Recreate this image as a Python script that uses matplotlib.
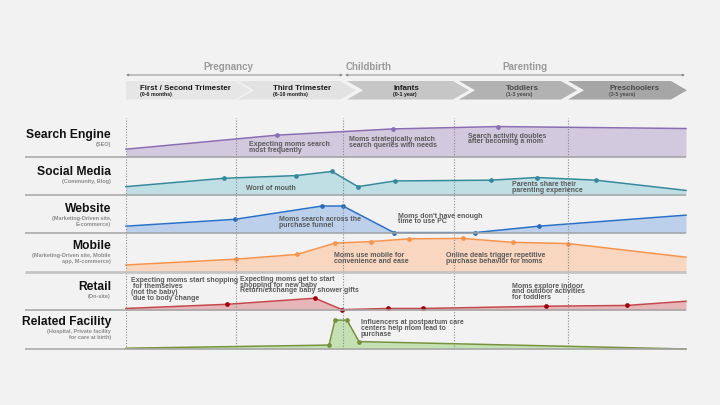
import matplotlib
matplotlib.use('Agg')
import matplotlib.pyplot as plt
from matplotlib.patches import Polygon

plt.rcParams['font.family'] = ['Liberation Sans', 'DejaVu Sans']

# ---------------- data ----------------
phases = ['Pregnancy', 'Childbirth', 'Parenting']
stages = ['First / Second Trimester', 'Third Trimester', 'Infants', 'Toddlers', 'Preschoolers']
stage_spans = ['(0-6 months)', '(6-10 months)', '(0-1 year)', '(1-3 years)', '(3-5 years)']
stage_bounds = [0, 110, 217, 328, 442, 560]          # timeline position of stage boundaries

channels = ['Search Engine', 'Social Media', 'Website', 'Mobile', 'Retail', 'Related Facility']
channel_notes = ['(SEO)', '(Community, Blog)', '(Marketing-Driven site,\nE-commerce)',
                 '(Marketing-Driven site, Mobile\napp, M-commerce)', '(On-site)',
                 '(Hospital, Private facility\nfor care at birth)']

search_x = [0, 151, 267, 372, 560]
search_y = [20, 56, 72, 78, 73]
social_x = [0, 98, 170, 206, 232, 269, 365, 411, 470, 560]
social_y = [22, 44, 51, 62, 22, 37, 39, 46, 39, 12]
website_x = [0, 109, 196, 217, 268, 349, 413, 560]
website_y = [18, 36, 71, 71, 1, 1, 18, 47]
mobile_x = [0, 110, 171, 209, 245, 283, 337, 387, 442, 560]
mobile_y = [18, 33, 45, 74, 78, 85, 86, 76, 73, 38]
retail_x = [0, 101, 189, 216, 262, 297, 420, 501, 560]
retail_y = [4, 15, 31, 1, 4, 4, 10, 12, 23]
facility_x = [0, 203, 209, 221, 233, 560]
facility_y = [2, 10, 74, 74, 19, 0]

notes = [
    (249, 144.3, ["Expecting moms search", "most frequently"]),
    (349, 139.3, ["Moms strategically match", "search queries with needs"]),
    (468, 136.0, ["Search activity doubles", "after becoming a mom"]),
    (246, 188.7, ["Word of mouth"]),
    (512, 184.7, ["Parents share their", "parenting experience"]),
    (279, 219.3, ["Moms search across the", "purchase funnel"]),
    (398, 216.0, ["Moms don't have enough", "time to use PC"]),
    (334, 255.7, ["Moms use mobile for", "convenience and ease"]),
    (446, 255.3, ["Online deals trigger repetitive", "purchase behavior for moms"]),
    (131, 281.0, ["Expecting moms start shopping", " for themselves", "(not the baby)", " due to body change"]),
    (240, 279.3, ["Expecting moms get to start", "shopping for new baby", "Return/exchange baby shower gifts"]),
    (512, 286.0, ["Moms explore indoor", "and outdoor activities", "for toddlers"]),
    (361, 322.7, ["Influencers at postpartum care", "centers help mom lead to", "purchase"]),
]

# ---------------- styling / layout ----------------
W, H = 720, 405
BG = '#f2f2f2'
X0, X1 = 126, 686
lane_edges = [118, 157, 195, 233, 272, 310, 349]
line_cols = ['#8a6db3', '#348a9c', '#2a72c8', '#f7944a', '#c4474b', '#76933c']
fill_cols = ['#d3c9de', '#c0dfe4', '#bcd0eb', '#f8d6bf', '#e6b6b9', '#c5e0b3']
mark_cols = ['#8a6db3', '#348a9c', '#2a6cb8', '#f7944a', '#a00010', '#76933c']
series = [(search_x, search_y), (social_x, social_y), (website_x, website_y),
          (mobile_x, mobile_y), (retail_x, retail_y), (facility_x, facility_y)]

fig = plt.figure(figsize=(W / 100, H / 100), dpi=100, facecolor=BG)

for i, (xs, ys) in enumerate(series):
    top, bot = lane_edges[i], lane_edges[i + 1]
    ax = fig.add_axes([X0 / W, 1 - bot / H, (X1 - X0) / W, (bot - top) / H])
    ax.set_xlim(stage_bounds[0], stage_bounds[-1])
    ax.set_ylim(0, 100)
    ax.axis('off')
    ax.fill_between(xs, ys, 0, color=fill_cols[i], lw=0)
    ax.plot(xs, ys, color=line_cols[i], lw=1.1, solid_joinstyle='round', clip_on=False)
    ax.plot(xs[1:-1], ys[1:-1], 'o', color=mark_cols[i], ms=3.4, mec='none', clip_on=False)

# dotted stage lines
axT = fig.add_axes([X0 / W, 1 - lane_edges[-1] / H, (X1 - X0) / W,
                    (lane_edges[-1] - lane_edges[0]) / H])
axT.set_xlim(stage_bounds[0], stage_bounds[-1])
axT.set_ylim(0, 1)
axT.axis('off')
axT.patch.set_alpha(0)
for b in stage_bounds[:-1]:
    axT.axvline(b, color='#8a8a8a', lw=0.8, ls=(0, (1, 1.5)))

# overlay for decoration and text
ov = fig.add_axes([0, 0, 1, 1])
ov.set_xlim(0, W)
ov.set_ylim(H, 0)
ov.axis('off')
ov.patch.set_alpha(0)
ov.set_zorder(10)

# separators
for i, y in enumerate(lane_edges[1:]):
    c, lw = ('#c4c4c4', 2.0) if i == 3 else ('#a4a4a4', 1.1)
    ov.plot([25, X1], [y, y], color=c, lw=lw, solid_capstyle='butt')

# phase header
ov.annotate('', xy=(343, 75), xytext=(126, 75),
            arrowprops=dict(arrowstyle='<|-|>', color='#8c8c8c', lw=0.7,
                            shrinkA=0, shrinkB=0, mutation_scale=3))
ov.annotate('', xy=(685, 75), xytext=(345, 75),
            arrowprops=dict(arrowstyle='<|-|>', color='#8c8c8c', lw=0.7,
                            shrinkA=0, shrinkB=0, mutation_scale=3))
for name, cx in zip(phases, [228, 369, 525]):
    ov.text(cx, 66.7, name, ha='center', va='center', fontsize=7,
            fontweight='bold', color='#9a9a9a')

# chevrons
S = [126, 238, 347, 459, 568]
E = [235, 340, 453, 561, 671]
d = 16
ct, cb = 81, 99.5
cm = (ct + cb) / 2
chev_cols = ['#e6e6e6', '#e2e2e2', '#c6c6c6', '#b2b2b2', '#a6a6a6']
txt_cols = ['#1a1a1a', '#1a1a1a', '#1a1a1a', '#4a4a4a', '#4a4a4a']
tx = [140, 273, 393, 506, 609]
for i in range(5):
    pts = [(S[i], ct), (E[i], ct), (E[i] + d, cm), (E[i], cb), (S[i], cb)]
    if i > 0:
        pts.append((S[i] + d, cm))
    ov.add_patch(Polygon(pts, closed=True, fc=chev_cols[i], ec='none'))
    ov.text(tx[i], 88.8, stages[i], ha='left', va='center', fontsize=5.7,
            fontweight='bold', color=txt_cols[i])
    ov.text(tx[i], 94.3, stage_spans[i], ha='left', va='center', fontsize=3.8,
            fontweight='bold', color=txt_cols[i])

# channel labels
title_y = [135, 172.3, 209, 245.7, 287.3, 322.3]
sub_y = [144.3, 182, 218.3, 255.3, 296.7, 331.7]
for i in range(6):
    ov.text(111, title_y[i], channels[i], ha='right', va='center', fontsize=8.7,
            fontweight='bold', color='#111111')
    for k, line in enumerate(channel_notes[i].split('\n')):
        ov.text(111, sub_y[i] + k * 6, line, ha='right', va='center', fontsize=4,
                fontweight='bold', color='#8c8c8c')

# annotations
for x, y, lines in notes:
    for k, line in enumerate(lines):
        ov.text(x, y + k * 5.8, line, ha='left', va='center', fontsize=5,
                fontweight='bold', color='#5a5a5a')

fig.savefig('out.png', dpi=100, facecolor=BG)
